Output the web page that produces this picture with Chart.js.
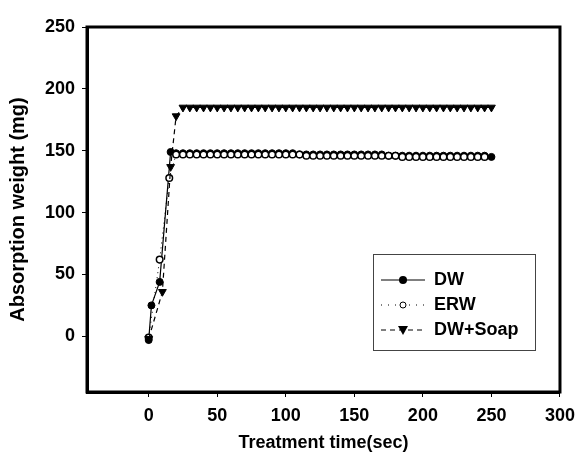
<!DOCTYPE html>
<html>
<head>
<meta charset="utf-8">
<script src="https://cdn.jsdelivr.net/npm/chart.js@4"></script>
<style>
  body { margin: 0; background: #fff; }
</style>
</head>
<body>
<canvas id="chartAbsorption" width="583" height="466"></canvas>
<script>
// tick labels
var xTicks = [0, 50, 100, 150, 200, 250, 300];
var yTicks = [0, 50, 100, 150, 200, 250];

// DW
var timeDW = [0, 2, 8, 16, 20, 25, 30, 35, 40, 45, 50, 55, 60, 65, 70, 75, 80, 85, 90, 95, 100,
    105, 110, 115, 120, 125, 130, 135, 140, 145, 150, 155, 160, 165, 170, 175, 180, 185, 190, 195,
    200, 205, 210, 215, 220, 225, 230, 235, 240, 245, 250];
var valDW = [-3, 25, 44, 149, 148, 148, 148, 148, 148, 148, 148, 148, 148, 148, 148, 148, 148, 148, 148, 148, 148,
    148, 147, 147, 147, 147, 147, 147, 147, 147, 147, 147, 147, 147, 147, 146, 146, 146, 146, 146,
    146, 146, 146, 146, 146, 146, 146, 146, 146, 146, 145];

// ERW
var timeERW = [0, 8, 15, 20, 25, 30, 35, 40, 45, 50, 55, 60, 65, 70, 75, 80, 85, 90, 95, 100,
    105, 110, 115, 120, 125, 130, 135, 140, 145, 150, 155, 160, 165, 170, 175, 180, 185, 190, 195,
    200, 205, 210, 215, 220, 225, 230, 235, 240, 245];
var valERW = [-1, 62, 128, 147, 147, 147, 147, 147, 147, 147, 147, 147, 147, 147, 147, 147, 147, 147, 147, 147,
    147, 147, 146, 146, 146, 146, 146, 146, 146, 146, 146, 146, 146, 146, 146, 146, 145, 145, 145,
    145, 145, 145, 145, 145, 145, 145, 145, 145, 145];

// DW+Soap
var timeSoap = [0, 10, 16, 20, 25, 30, 35, 40, 45, 50, 55, 60, 65, 70, 75, 80, 85, 90, 95, 100,
    105, 110, 115, 120, 125, 130, 135, 140, 145, 150, 155, 160, 165, 170, 175, 180, 185, 190, 195,
    200, 205, 210, 215, 220, 225, 230, 235, 240, 245, 250];
var valSoap = [-2, 36, 137, 178, 185, 185, 185, 185, 185, 185, 185, 185, 185, 185, 185, 185, 185, 185, 185, 185,
    185, 185, 185, 185, 185, 185, 185, 185, 185, 185, 185, 185, 185, 185, 185, 185, 185, 185, 185,
    185, 185, 185, 185, 185, 185, 185, 185, 185, 185, 185];

var fontFamily = "'Liberation Sans', Arial, sans-serif";

function toPoints(xs, ys) {
    return xs.map(function(x, i) { return { x: x, y: ys[i] }; });
}

// frame round the plot + legend box inside it
var framePlugin = {
    id: 'frameAndLegend',
    afterDraw: function(chart) {
        var ctx = chart.ctx;
        var a = chart.chartArea;
        ctx.save();
        ctx.strokeStyle = '#000';
        ctx.lineWidth = 3;
        ctx.strokeRect(a.left, a.top, a.right - a.left, a.bottom - a.top);

        // legend
        var bx = 373, by = 254, bw = 162, bh = 96;
        ctx.lineWidth = 1;
        ctx.strokeStyle = '#444';
        ctx.strokeRect(bx + 0.5, by + 0.5, bw, bh);

        var rows = [
            { label: 'DW', dash: [], marker: 'dot' },
            { label: 'ERW', dash: [1, 6], marker: 'open' },
            { label: 'DW+Soap', dash: [5, 4], marker: 'tri' }
        ];
        ctx.font = 'bold 18px ' + fontFamily;
        ctx.textBaseline = 'middle';
        ctx.fillStyle = '#000';
        rows.forEach(function(r, i) {
            var y = by + 26 + i * 25;
            ctx.strokeStyle = '#000';
            ctx.lineWidth = 1;
            ctx.setLineDash(r.dash);
            ctx.beginPath();
            ctx.moveTo(381, y);
            ctx.lineTo(425, y);
            ctx.stroke();
            ctx.setLineDash([]);
            var cx = 403;
            if (r.marker === 'dot') {
                ctx.beginPath();
                ctx.arc(cx, y, 4, 0, Math.PI * 2);
                ctx.fill();
            } else if (r.marker === 'open') {
                ctx.fillStyle = '#fff';
                ctx.beginPath();
                ctx.arc(cx, y, 3, 0, Math.PI * 2);
                ctx.fill();
                ctx.stroke();
                ctx.fillStyle = '#000';
            } else {
                ctx.beginPath();
                ctx.moveTo(cx - 5, y - 4);
                ctx.lineTo(cx + 5, y - 4);
                ctx.lineTo(cx, y + 5);
                ctx.closePath();
                ctx.fill();
            }
            ctx.fillText(r.label, 434, y);
        });
        ctx.restore();
    }
};

var ctx = document.getElementById('chartAbsorption');
var myChart = new Chart(ctx, {
    type: 'scatter',
    data: {
        datasets: [{
            label: 'DW',
            data: toPoints(timeDW, valDW),
            showLine: true,
            borderColor: '#000',
            borderWidth: 1.2,
            backgroundColor: '#000',
            pointStyle: 'circle',
            pointRadius: 3.5,
            pointBorderWidth: 1,
            order: 2
        }, {
            label: 'ERW',
            data: toPoints(timeERW, valERW),
            showLine: true,
            borderColor: '#000',
            borderWidth: 1,
            borderDash: [1, 4],
            backgroundColor: '#fff',
            pointBorderColor: '#000',
            pointStyle: 'circle',
            pointRadius: 3.3,
            pointBorderWidth: 1.5,
            order: 1
        }, {
            label: 'DW+Soap',
            data: toPoints(timeSoap, valSoap),
            showLine: true,
            borderColor: '#000',
            borderWidth: 1.2,
            borderDash: [5, 4],
            backgroundColor: '#000',
            pointStyle: 'triangle',
            pointRotation: 180,
            pointRadius: 4.5,
            pointBorderWidth: 1,
            order: 0
        }]
    },
    options: {
        responsive: false,
        animation: false,
        layout: { padding: { top: 27, right: 15, left: 0, bottom: 0 } },
        plugins: {
            legend: { display: false },
            tooltip: { enabled: false }
        },
        scales: {
            x: {
                type: 'linear',
                min: -45,
                max: 300,
                afterBuildTicks: function(scale) {
                    scale.ticks = xTicks.map(function(v) { return { value: v }; });
                },
                afterFit: function(scale) { scale.height = 74; },
                grid: { drawOnChartArea: false, drawTicks: true, tickLength: 5, color: '#000', tickWidth: 1 },
                border: { display: true, color: '#000', width: 3 },
                ticks: {
                    color: '#000',
                    padding: 8,
                    maxRotation: 0,
                    font: { family: fontFamily, size: 18, weight: 'bold' }
                },
                title: {
                    display: true,
                    text: 'Treatment time(sec)',
                    color: '#000',
                    padding: { top: 0, bottom: 12 },
                    font: { family: fontFamily, size: 18, weight: 'bold' }
                }
            },
            y: {
                min: -45,
                max: 250,
                afterBuildTicks: function(scale) {
                    scale.ticks = yTicks.map(function(v) { return { value: v }; });
                },
                afterFit: function(scale) { scale.width = 87; },
                grid: { drawOnChartArea: false, drawTicks: true, tickLength: 5, color: '#000', tickWidth: 1 },
                border: { display: true, color: '#000', width: 3 },
                ticks: {
                    color: '#000',
                    padding: 7,
                    font: { family: fontFamily, size: 18, weight: 'bold' }
                },
                title: {
                    display: true,
                    text: 'Absorption weight (mg)',
                    color: '#000',
                    padding: { top: 6, bottom: 0 },
                    font: { family: fontFamily, size: 20, weight: 'bold' }
                }
            }
        }
    },
    plugins: [framePlugin]
});
</script>
</body>
</html>
